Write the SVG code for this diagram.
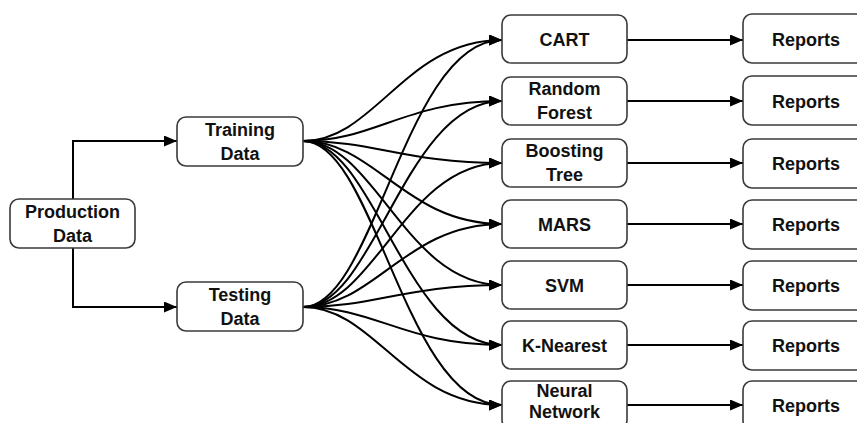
<svg xmlns="http://www.w3.org/2000/svg" width="857" height="423" viewBox="0 0 857 423">
<defs>
<style>
.box{fill:#fff;stroke:#3a3a3a;stroke-width:1.6}
.t{font-family:"Liberation Sans",Arial,sans-serif;font-weight:bold;font-size:18px;fill:#111;text-anchor:middle}
.c{fill:none;stroke:#000;stroke-width:2}
</style>
<marker id="ah" markerUnits="userSpaceOnUse" markerWidth="13" markerHeight="11" refX="13" refY="5.5" orient="auto">
<path d="M0,0 L13,5.5 L0,11 z" fill="#000"/>
</marker>
</defs>
<rect width="857" height="423" fill="#fff"/>
<g id="connectors">
<path class="c" d="M73,199 V141 H177" marker-end="url(#ah)"/>
<path class="c" d="M73,248 V307 H177" marker-end="url(#ah)"/>
<path class="c" d="M303,141 C375,141 405,40 502,40" marker-end="url(#ah)"/>
<path class="c" d="M303,141 C375,141 405,101 502,101" marker-end="url(#ah)"/>
<path class="c" d="M303,141 C375,141 405,163 502,163" marker-end="url(#ah)"/>
<path class="c" d="M303,141 C375,141 405,224 502,224" marker-end="url(#ah)"/>
<path class="c" d="M303,141 C375,141 405,285 502,285" marker-end="url(#ah)"/>
<path class="c" d="M303,141 C375,141 405,345 502,345" marker-end="url(#ah)"/>
<path class="c" d="M303,141 C375,141 405,405 502,405" marker-end="url(#ah)"/>
<path class="c" d="M303,307 C375,307 405,40 502,40" marker-end="url(#ah)"/>
<path class="c" d="M303,307 C375,307 405,101 502,101" marker-end="url(#ah)"/>
<path class="c" d="M303,307 C375,307 405,163 502,163" marker-end="url(#ah)"/>
<path class="c" d="M303,307 C375,307 405,224 502,224" marker-end="url(#ah)"/>
<path class="c" d="M303,307 C375,307 405,285 502,285" marker-end="url(#ah)"/>
<path class="c" d="M303,307 C375,307 405,345 502,345" marker-end="url(#ah)"/>
<path class="c" d="M303,307 C375,307 405,405 502,405" marker-end="url(#ah)"/>
<path class="c" d="M627,40 H743" marker-end="url(#ah)"/>
<path class="c" d="M627,101 H743" marker-end="url(#ah)"/>
<path class="c" d="M627,163 H743" marker-end="url(#ah)"/>
<path class="c" d="M627,224 H743" marker-end="url(#ah)"/>
<path class="c" d="M627,285 H743" marker-end="url(#ah)"/>
<path class="c" d="M627,345 H743" marker-end="url(#ah)"/>
<path class="c" d="M627,405 H743" marker-end="url(#ah)"/>
</g>
<g id="production"><rect class="box" x="10" y="199" width="125" height="49" rx="9"/><text class="t" x="72.5" y="217.5">Production</text><text class="t" x="72.5" y="241.5">Data</text></g>
<g id="training"><rect class="box" x="177" y="117" width="126" height="49" rx="9"/><text class="t" x="240" y="135.5">Training</text><text class="t" x="240" y="159.5">Data</text></g>
<g id="testing"><rect class="box" x="177" y="282" width="126" height="49" rx="9"/><text class="t" x="240" y="300.5">Testing</text><text class="t" x="240" y="324.5">Data</text></g>
<g id="cart"><rect class="box" x="502" y="15" width="125" height="48" rx="9"/><text class="t" x="564.5" y="46">CART</text></g>
<g id="rf"><rect class="box" x="502" y="77" width="125" height="48" rx="9"/><text class="t" x="564.5" y="95">Random</text><text class="t" x="564.5" y="119">Forest</text></g>
<g id="bt"><rect class="box" x="502" y="139" width="125" height="48" rx="9"/><text class="t" x="564.5" y="157">Boosting</text><text class="t" x="564.5" y="181">Tree</text></g>
<g id="mars"><rect class="box" x="502" y="200" width="125" height="48" rx="9"/><text class="t" x="564.5" y="230.5">MARS</text></g>
<g id="svm"><rect class="box" x="502" y="261" width="125" height="48" rx="9"/><text class="t" x="564.5" y="291.5">SVM</text></g>
<g id="knn"><rect class="box" x="502" y="321" width="125" height="48" rx="9"/><text class="t" x="564.5" y="351.5">K-Nearest</text></g>
<g id="nn"><rect class="box" x="502" y="381" width="125" height="48" rx="9"/><text class="t" x="564.5" y="397">Neural</text><text class="t" x="564.5" y="418">Network</text></g>
<g id="r1"><rect class="box" x="743" y="14" width="127" height="49" rx="9"/><text class="t" x="806" y="46">Reports</text></g>
<g id="r2"><rect class="box" x="743" y="76" width="127" height="49" rx="9"/><text class="t" x="806" y="107.5">Reports</text></g>
<g id="r3"><rect class="box" x="743" y="139" width="127" height="49" rx="9"/><text class="t" x="806" y="169.5">Reports</text></g>
<g id="r4"><rect class="box" x="743" y="200" width="127" height="49" rx="9"/><text class="t" x="806" y="230.5">Reports</text></g>
<g id="r5"><rect class="box" x="743" y="261" width="127" height="49" rx="9"/><text class="t" x="806" y="291.5">Reports</text></g>
<g id="r6"><rect class="box" x="743" y="321" width="127" height="49" rx="9"/><text class="t" x="806" y="351.5">Reports</text></g>
<g id="r7"><rect class="box" x="743" y="381" width="127" height="49" rx="9"/><text class="t" x="806" y="411.5">Reports</text></g>
</svg>
